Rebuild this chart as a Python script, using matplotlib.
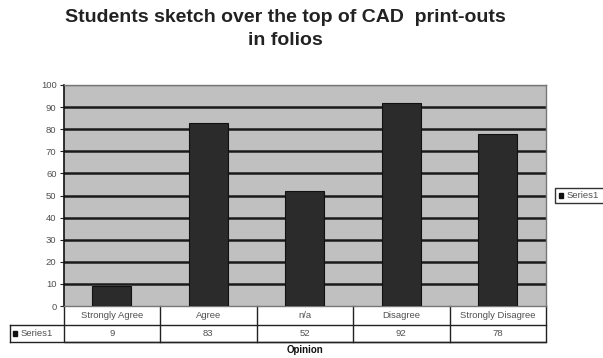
import matplotlib
matplotlib.use("Agg")
import matplotlib.pyplot as plt
from matplotlib.patches import Rectangle

categories = ["Strongly Agree", "Agree", "n/a", "Disagree", "Strongly Disagree"]
series_name = "Series1"
values = [9, 83, 52, 92, 78]
y_ticks = [0, 10, 20, 30, 40, 50, 60, 70, 80, 90, 100]

plt.rcParams["font.family"] = ["Liberation Sans", "DejaVu Sans"]

W, H = 603, 358
fig = plt.figure(figsize=(W / 100, H / 100), dpi=100)
small = 6.8
txt_col = "#505050"

# plot area in pixels
left, right, top, bottom = 63.5, 546, 85, 306
ax = fig.add_axes([left / W, 1 - bottom / H, (right - left) / W, (bottom - top) / H])
ax.set_facecolor("#c0c0c0")

x = list(range(len(categories)))
ax.bar(x, values, width=0.4, color="#2b2b2b", edgecolor="#111111", linewidth=0.8, zorder=3)
ax.set_xlim(-0.5, len(categories) - 0.5)
ax.set_ylim(0, 100)
ax.set_yticks(y_ticks)
ax.set_yticklabels([str(t) for t in y_ticks], fontsize=small, color=txt_col)
ax.set_xticks([])
ax.tick_params(axis="y", length=3, width=0.8, direction="out", pad=2, color="#222222")
for t in y_ticks[1:-1]:
    ax.axhline(t, color="#1a1a1a", linewidth=1.8, zorder=2)
ax.axhline(100, color="#777777", linewidth=1.0, zorder=2)

for side in ["top", "right", "bottom"]:
    ax.spines[side].set_color("#777777")
    ax.spines[side].set_linewidth(1.0)
ax.spines["left"].set_color("#111111")
ax.spines["left"].set_linewidth(1.2)

# data table beneath the plot (axes coordinates)
ph = bottom - top
pw = right - left
row1_top, row1_bot = 0.0, -(325 - bottom) / ph
row2_bot = -(342 - bottom) / ph
tab_left = (10 - left) / pw
lw = 1.0
ec = "#222222"
tr = ax.transAxes
ax.plot([0, 0, 1, 1], [row1_top, row2_bot, row2_bot, row1_top], color=ec, lw=lw,
        transform=tr, clip_on=False)
ax.plot([tab_left, 1], [row1_bot, row1_bot], color=ec, lw=lw, transform=tr, clip_on=False)
ax.plot([tab_left, 1], [row2_bot, row2_bot], color=ec, lw=lw, transform=tr, clip_on=False)
ax.plot([tab_left, tab_left], [row1_bot, row2_bot], color=ec, lw=lw, transform=tr, clip_on=False)
n = len(categories)
for i in range(1, n):
    ax.plot([i / n, i / n], [row1_top, row2_bot], color=ec, lw=lw, transform=tr, clip_on=False)
for i, (c, v) in enumerate(zip(categories, values)):
    cx = (i + 0.5) / n
    ax.text(cx, (row1_top + row1_bot) / 2, c, transform=tr, ha="center", va="center",
            fontsize=small, color=txt_col)
    ax.text(cx, (row1_bot + row2_bot) / 2, str(v), transform=tr, ha="center", va="center",
            fontsize=small, color=txt_col)
ax.add_patch(Rectangle((tab_left + 0.006, (row1_bot + row2_bot) / 2 - 0.013), 0.009, 0.026,
                       transform=tr, color="#111111", clip_on=False))
ax.text(tab_left + 0.022, (row1_bot + row2_bot) / 2, series_name, transform=tr,
        ha="left", va="center", fontsize=small, color=txt_col)

fig.text(305 / W, 1 - 350 / H, "Opinion", ha="center", va="center", fontsize=7,
         fontweight="bold", color="#111111")

# legend box at the right edge
leg = Rectangle((555 / W, 1 - 203 / H), 60 / W, 15 / H, transform=fig.transFigure,
                facecolor="white", edgecolor="#333333", linewidth=1.0)
fig.patches.append(leg)
fig.patches.append(Rectangle((558.5 / W, 1 - 198 / H), 4 / W, 5 / H, transform=fig.transFigure,
                             color="#111111"))
fig.text(567 / W, 1 - 195.5 / H, series_name, ha="left", va="center", fontsize=small,
         color=txt_col)

fig.text(285 / W, 1 - 29 / H, "Students sketch over the top of CAD  print-outs\nin folios",
         ha="center", va="center", fontsize=14, fontweight="bold", color="#222222",
         linespacing=1.4)

fig.savefig("out.png", dpi=100)
